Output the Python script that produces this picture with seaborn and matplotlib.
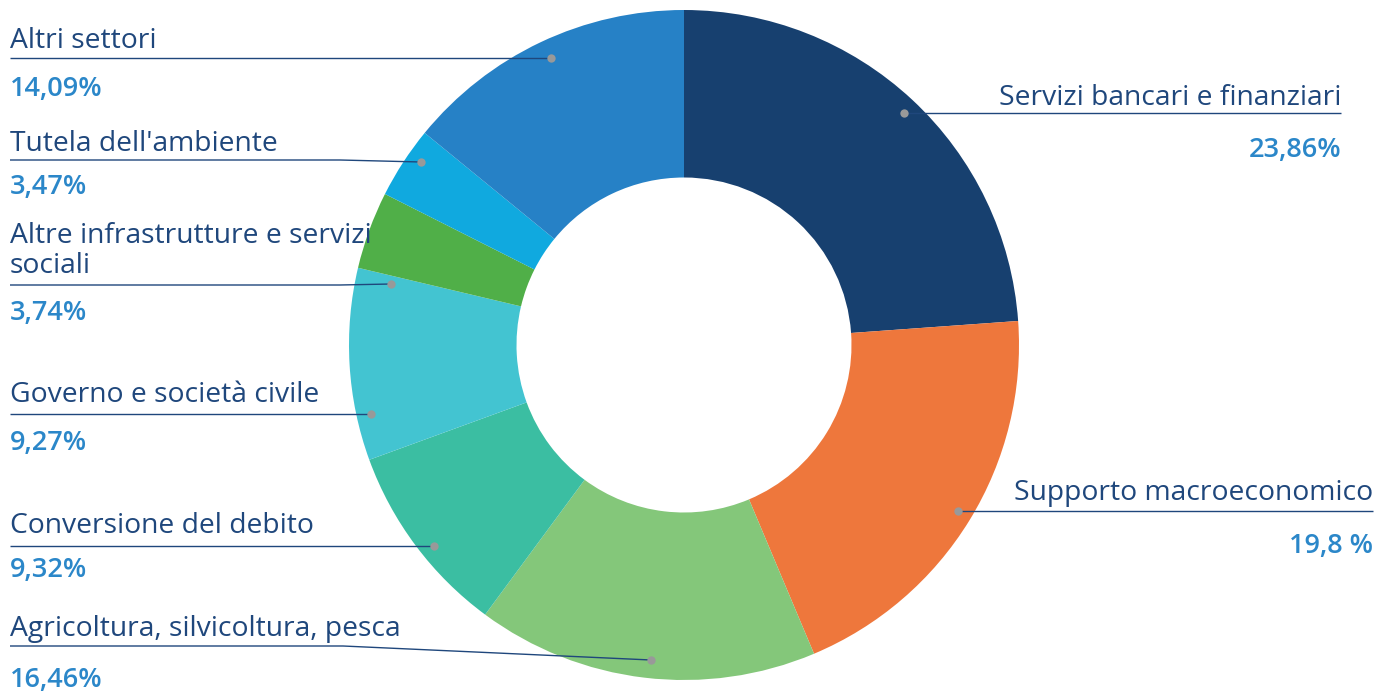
import matplotlib
matplotlib.use("Agg")
import matplotlib.pyplot as plt
import seaborn as sns

# ---- data ----
categories = ["Servizi bancari e finanziari", "Supporto macroeconomico",
              "Agricoltura, silvicoltura, pesca", "Conversione del debito",
              "Governo e società civile", "Altre infrastrutture e servizi\nsociali",
              "Tutela dell'ambiente", "Altri settori"]
values = [23.86, 19.8, 16.46, 9.32, 9.27, 3.74, 3.47, 14.09]
pct_labels = ["23,86%", "19,8 %", "16,46%", "9,32%", "9,27%", "3,74%", "3,47%", "14,09%"]
colors = ["#17406F", "#EE773C", "#84C77A", "#3BBEA2", "#43C4D1", "#50AF48", "#10A9DF", "#2681C6"]

sns.set_theme(style="white")
plt.rcParams['font.family'] = ['Open Sans', 'DejaVu Sans']

W, H = 1392, 695
fig = plt.figure(figsize=(W / 100, H / 100), dpi=100)
ax = fig.add_axes([0, 0, 1, 1])

def Y(y):
    return H - y

cx, cy, R = 684, 345, 335
palette = sns.color_palette(colors)
ax.pie(values, colors=palette, startangle=90, counterclock=False,
       radius=R, center=(cx, Y(cy)),
       wedgeprops=dict(width=R * 0.5, linewidth=0))
ax.set_xlim(0, W)
ax.set_ylim(0, H)
ax.set_aspect('equal')
ax.axis('off')

navy = "#1F477C"
blue = "#2B87C9"
# layout: (side, text_x, label_y, pct_y, line_y, kink_x, dot_x, dot_y)
layout = [
    ("r", 1341, 98, 150, 113, 920, 904, 113),
    ("r", 1373, 493, 546, 511, 970, 958, 511),
    ("l", 10, 629, 680, 646, 343, 651, 660),
    ("l", 10, 526, 570, 546, 420, 434, 546),
    ("l", 10, 395, 443, 414, 360, 371, 414),
    ("l", 10, 251, 313, 285, 340, 391, 284),
    ("l", 10, 144, 187, 160, 340, 421, 162),
    ("l", 10, 41, 89, 58, 540, 551, 58),
]
for cat, pct, (side, tx, ly, py, liny, kx, dx, dy) in zip(categories, pct_labels, layout):
    ha = "right" if side == "r" else "left"
    ax.text(tx, Y(ly), cat, ha=ha, va="center", fontsize=20.3, color=navy,
            linespacing=1.1)
    ax.text(tx, Y(py), pct, ha=ha, va="center", fontsize=19.5, color=blue,
            fontweight="semibold")
    ax.plot([tx, kx, dx], [Y(liny), Y(liny), Y(dy)], color=navy, lw=1.0,
            solid_capstyle="butt")
    ax.plot([dx], [Y(dy)], marker="o", ms=6, color="#999999", mec="none")

fig.savefig("out.png", dpi=100)
